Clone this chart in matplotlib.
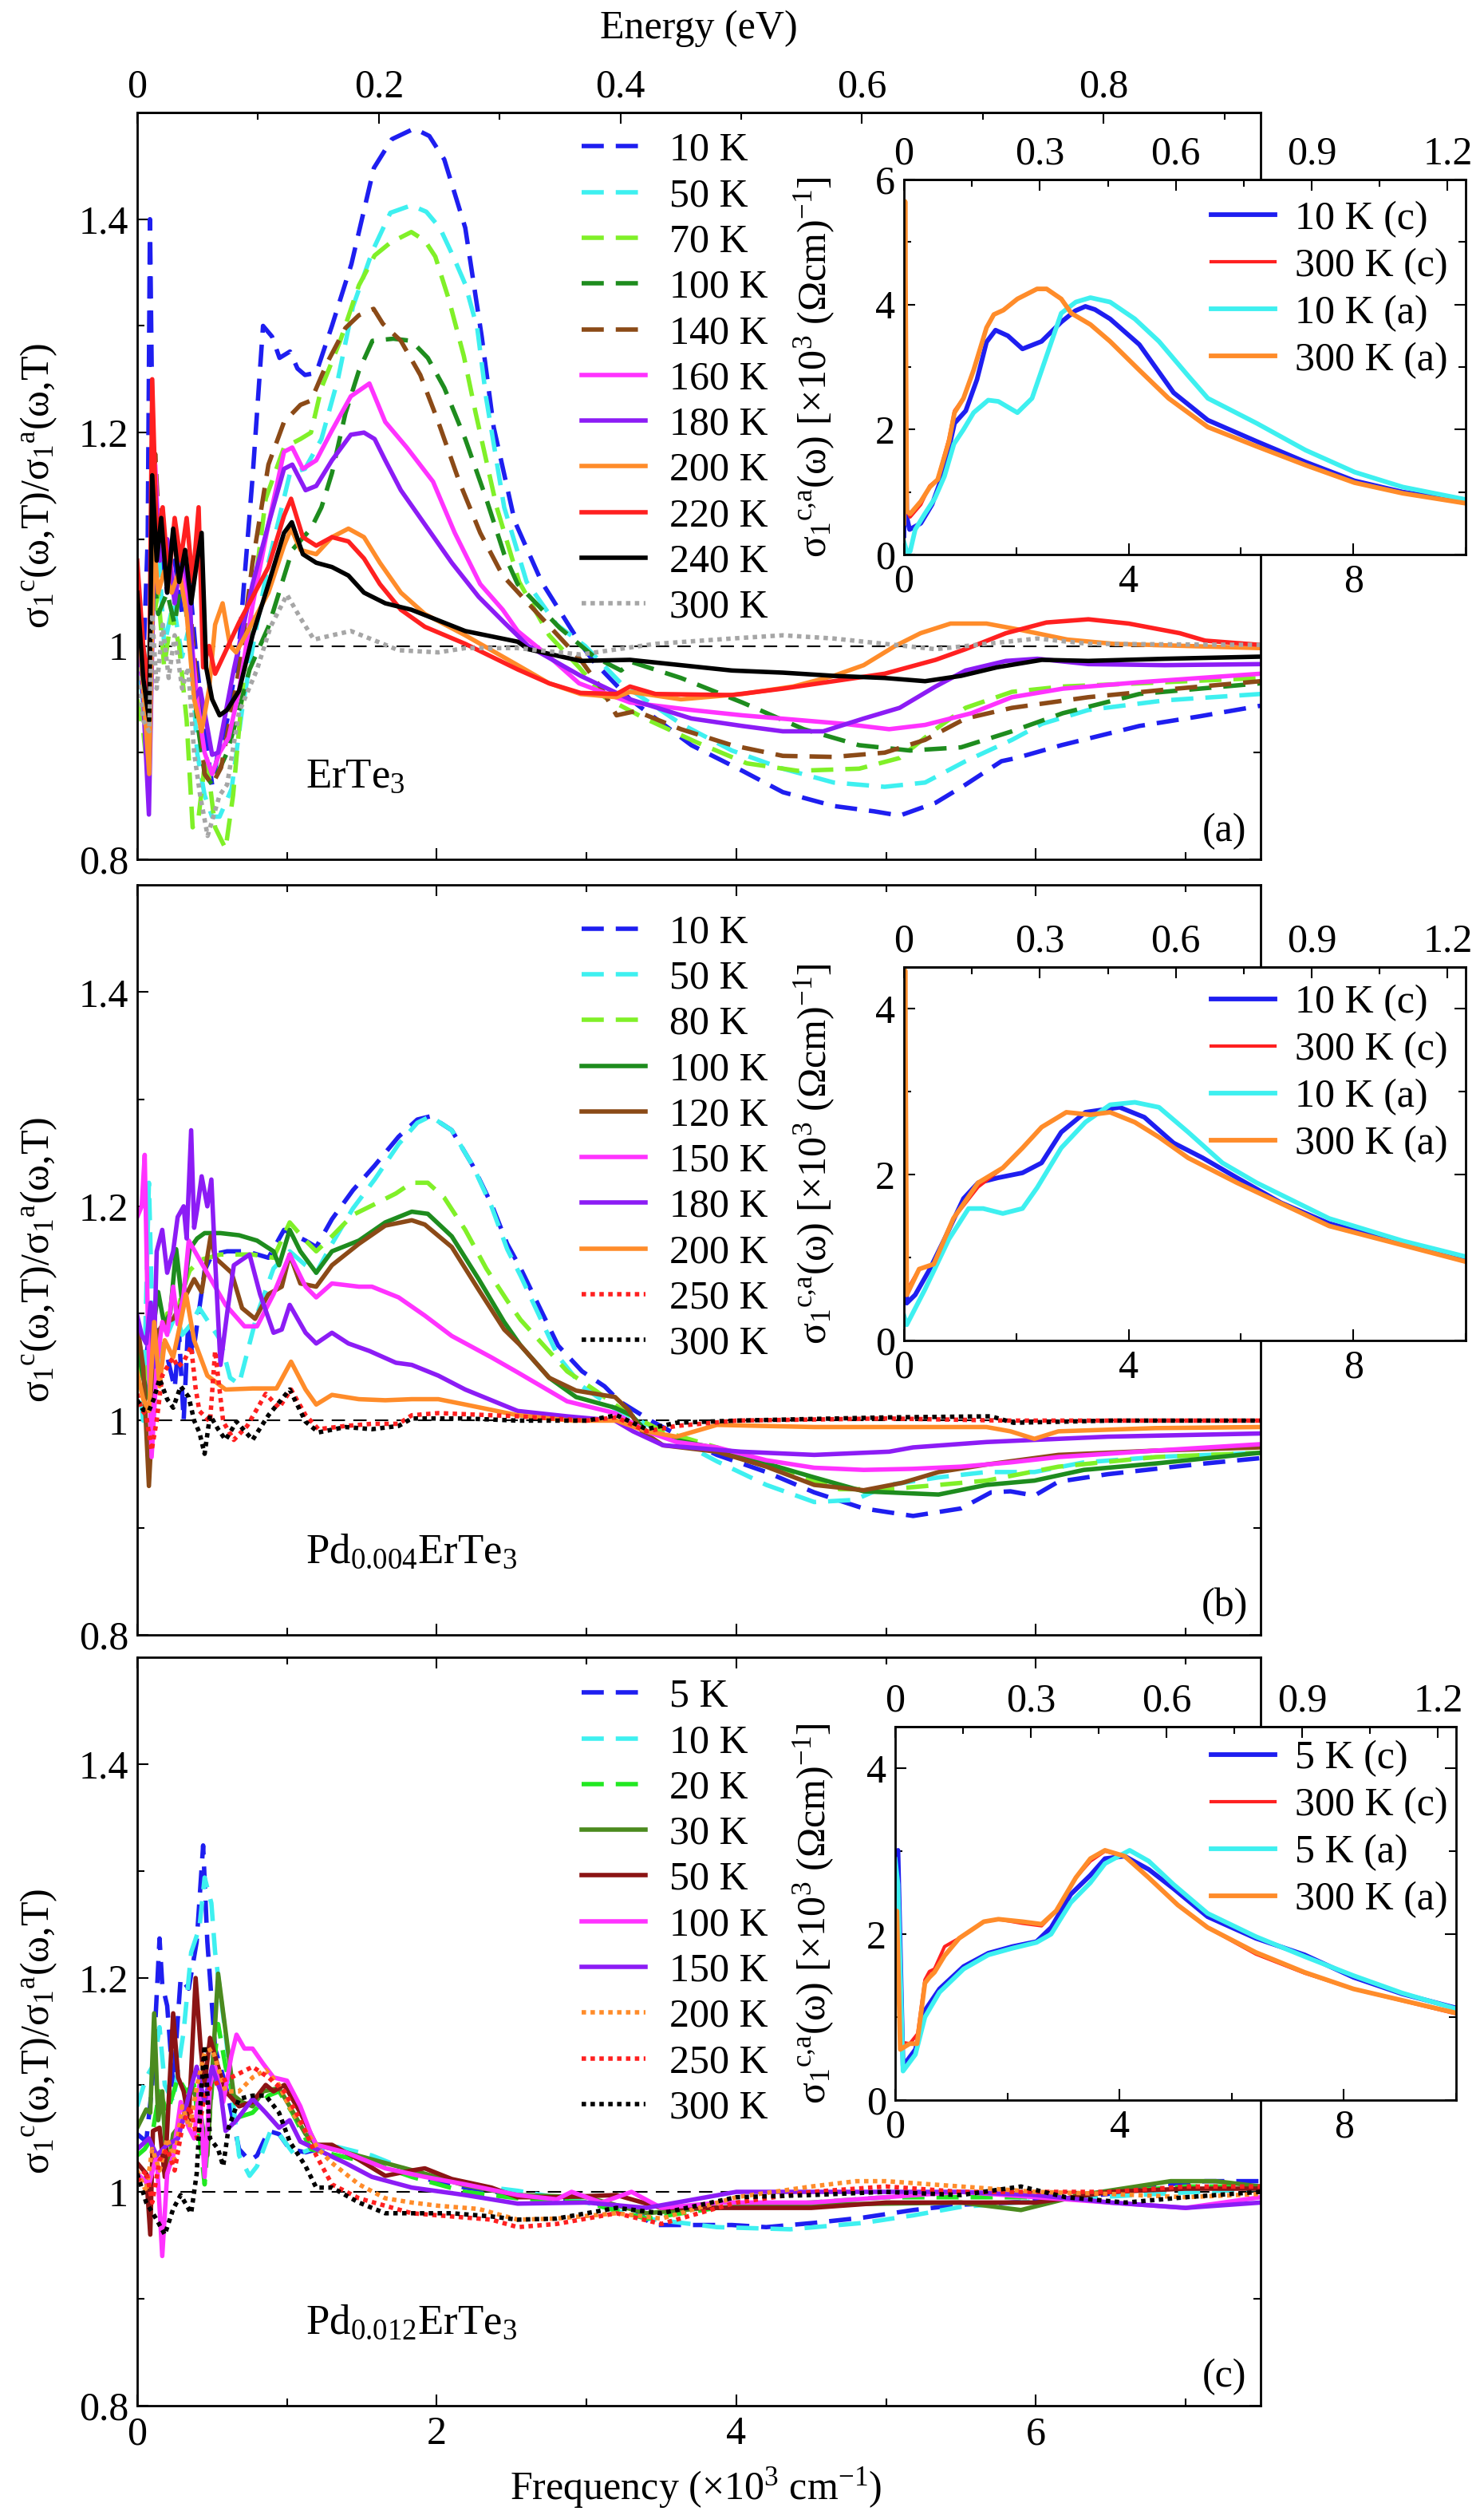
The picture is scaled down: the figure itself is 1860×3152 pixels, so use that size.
import numpy as np
import matplotlib
matplotlib.use("Agg")
import matplotlib.pyplot as plt
from matplotlib.ticker import MultipleLocator, FuncFormatter, FixedLocator

plt.rcParams['font.family'] = ['Liberation Serif', 'DejaVu Serif']
plt.rcParams['mathtext.default'] = 'regular'
plt.rcParams['axes.linewidth'] = 2.0

EV = 8.0655  # 10^3 cm^-1 per eV

# ---------------- panel (a): ErTe3 ----------------
a_10K = [(0, 1.05), (0.04, 0.98), (0.07, 1.10), (0.085, 1.40), (0.1, 1.22), (0.12, 1.06), (0.16, 1.09), (0.2, 1.05),
         (0.25, 1.08), (0.3, 1.03), (0.35, 1.06), (0.4, 0.98), (0.45, 0.92), (0.5, 0.87), (0.54, 0.90), (0.6, 0.93),
         (0.68, 1.0), (0.77, 1.158), (0.84, 1.30), (0.9, 1.29), (0.95, 1.27), (1.02, 1.276), (1.07, 1.26), (1.12, 1.254),
         (1.195, 1.256), (1.3, 1.30), (1.43, 1.358), (1.58, 1.448), (1.70, 1.475), (1.85, 1.485), (1.95, 1.478),
         (2.05, 1.456), (2.19, 1.392), (2.3, 1.29), (2.38, 1.205), (2.52, 1.117), (2.70, 1.06), (2.95, 1.004),
         (3.05, 0.985), (3.29, 0.95), (3.70, 0.907), (4.04, 0.883), (4.31, 0.863), (4.65, 0.85), (4.92, 0.845),
         (5.09, 0.841), (5.33, 0.853), (5.53, 0.87), (5.77, 0.892), (5.87, 0.895), (6.17, 0.907), (6.69, 0.925),
         (7.09, 0.934), (7.5, 0.944)]
a_50K = [(0, 1.0), (0.05, 0.93), (0.08, 1.0), (0.1, 1.06), (0.14, 1.1), (0.18, 1.0), (0.24, 1.04), (0.3, 0.99),
         (0.35, 1.02), (0.4, 0.9), (0.45, 0.86), (0.5, 0.84), (0.55, 0.84), (0.63, 0.866), (0.7, 0.94), (0.77, 0.998),
         (0.876, 1.078), (1.02, 1.162), (1.12, 1.166), (1.23, 1.194), (1.34, 1.25), (1.44, 1.318), (1.57, 1.37),
         (1.69, 1.406), (1.83, 1.413), (1.93, 1.407), (2.02, 1.392), (2.11, 1.365), (2.19, 1.339), (2.27, 1.298),
         (2.33, 1.232), (2.45, 1.13), (2.6, 1.06), (2.8, 1.02), (2.99, 1.0), (3.23, 0.965), (3.63, 0.927), (3.97, 0.902),
         (4.31, 0.885), (4.65, 0.872), (4.99, 0.868), (5.26, 0.872), (5.53, 0.892), (5.84, 0.912), (6.04, 0.927),
         (6.35, 0.94), (6.86, 0.949), (7.5, 0.955)]
a_70K = [(0, 0.95), (0.04, 0.92), (0.07, 0.88), (0.1, 1.02), (0.14, 1.05), (0.18, 0.98), (0.23, 1.03), (0.28, 1.0),
         (0.33, 0.93), (0.37, 0.83), (0.41, 0.84), (0.46, 0.90), (0.52, 0.83), (0.59, 0.81), (0.64, 0.86),
         (0.716, 0.978), (0.858, 1.138), (0.98, 1.186), (1.09, 1.194), (1.16, 1.20), (1.23, 1.242), (1.355, 1.286),
         (1.48, 1.338), (1.585, 1.366), (1.69, 1.378), (1.83, 1.388), (1.92, 1.38), (1.99, 1.365), (2.08, 1.325),
         (2.18, 1.272), (2.26, 1.218), (2.4, 1.13), (2.55, 1.06), (2.75, 1.01), (2.95, 0.98), (3.12, 0.952),
         (3.39, 0.932), (3.73, 0.91), (4.07, 0.89), (4.41, 0.883), (4.82, 0.885), (5.09, 0.895), (5.33, 0.922),
         (5.53, 0.942), (5.84, 0.957), (6.18, 0.962), (6.69, 0.965), (7.5, 0.97)]
a_100K = [(0, 1.0), (0.04, 0.97), (0.08, 0.92), (0.1, 1.08), (0.14, 1.03), (0.2, 1.05), (0.25, 1.02), (0.3, 1.07),
          (0.35, 1.0), (0.4, 0.93), (0.45, 0.88), (0.5, 0.87), (0.6, 0.9), (0.68, 0.94), (0.75, 0.978), (0.876, 1.018),
          (1.035, 1.09), (1.16, 1.11), (1.23, 1.13), (1.30, 1.162), (1.39, 1.218), (1.48, 1.258), (1.57, 1.286),
          (1.71, 1.288), (1.83, 1.286), (1.94, 1.27), (2.05, 1.242), (2.19, 1.194), (2.33, 1.138), (2.45, 1.086),
          (2.54, 1.058), (2.82, 1.017), (3.05, 0.99), (3.23, 0.977), (3.3, 0.985), (3.63, 0.97), (4.04, 0.947),
          (4.45, 0.922), (4.82, 0.907), (5.16, 0.902), (5.50, 0.905), (5.84, 0.92), (6.18, 0.937), (6.69, 0.955),
          (7.5, 0.965)]
a_140K = [(0, 1.02), (0.04, 0.98), (0.08, 0.95), (0.12, 1.18), (0.15, 1.1), (0.2, 1.07), (0.25, 1.05), (0.3, 1.09),
          (0.35, 1.04), (0.4, 0.96), (0.45, 0.88), (0.5, 0.87), (0.56, 0.886), (0.68, 0.978), (0.77, 1.078),
          (0.876, 1.17), (0.98, 1.21), (1.09, 1.226), (1.16, 1.23), (1.27, 1.266), (1.39, 1.298), (1.48, 1.31),
          (1.578, 1.316), (1.64, 1.302), (1.76, 1.286), (1.89, 1.254), (2.01, 1.21), (2.15, 1.154), (2.29, 1.106),
          (2.44, 1.066), (2.61, 1.04), (2.96, 0.987), (3.10, 0.96), (3.20, 0.935), (3.33, 0.939), (3.63, 0.922),
          (3.97, 0.907), (4.31, 0.897), (4.65, 0.896), (4.99, 0.90), (5.26, 0.912), (5.53, 0.932), (5.84, 0.942),
          (6.35, 0.952), (6.86, 0.959), (7.5, 0.967)]
a_160K = [(0, 1.05), (0.04, 1.0), (0.08, 0.92), (0.12, 1.17), (0.15, 1.08), (0.2, 1.1), (0.25, 1.05), (0.3, 1.08),
          (0.34, 1.04), (0.4, 0.95), (0.45, 0.9), (0.5, 0.88), (0.55, 0.9), (0.61, 0.914), (0.68, 0.958), (0.77, 1.038),
          (0.876, 1.114), (0.98, 1.182), (1.035, 1.186), (1.106, 1.166), (1.195, 1.174), (1.30, 1.202), (1.426, 1.234),
          (1.55, 1.246), (1.656, 1.21), (1.80, 1.186), (1.975, 1.154), (2.12, 1.106), (2.29, 1.058), (2.44, 1.034),
          (2.54, 1.014), (2.75, 0.99), (2.95, 0.965), (3.29, 0.947), (3.70, 0.94), (4.04, 0.935), (4.38, 0.931),
          (4.72, 0.927), (5.02, 0.922), (5.26, 0.926), (5.57, 0.937), (5.84, 0.952), (6.18, 0.96), (6.69, 0.966),
          (7.5, 0.974)]
a_180K = [(0, 1.02), (0.04, 0.95), (0.078, 0.842), (0.1, 1.0), (0.12, 1.15), (0.15, 1.08), (0.2, 1.1), (0.25, 1.04),
          (0.3, 1.09), (0.35, 1.05), (0.38, 0.95), (0.42, 0.96), (0.46, 0.93), (0.5, 0.898), (0.54, 0.9), (0.645, 0.978),
          (0.77, 1.058), (0.876, 1.114), (0.98, 1.166), (1.035, 1.17), (1.124, 1.146), (1.195, 1.15), (1.30, 1.174),
          (1.426, 1.198), (1.514, 1.2), (1.585, 1.194), (1.656, 1.174), (1.76, 1.146), (1.92, 1.114), (2.10, 1.078),
          (2.28, 1.046), (2.45, 1.022), (2.61, 1.0), (2.96, 0.972), (3.29, 0.95), (3.70, 0.932), (4.04, 0.925),
          (4.31, 0.92), (4.58, 0.92), (4.85, 0.932), (5.09, 0.942), (5.33, 0.962), (5.53, 0.977), (5.80, 0.986),
          (6.01, 0.988), (6.35, 0.983), (6.86, 0.982), (7.5, 0.983)]
a_200K = [(0, 1.05), (0.04, 0.96), (0.08, 0.88), (0.11, 1.1), (0.14, 1.05), (0.18, 1.07), (0.23, 1.05), (0.28, 1.07),
          (0.33, 1.03), (0.38, 0.95), (0.43, 0.92), (0.48, 0.96), (0.52, 1.02), (0.57, 1.04), (0.62, 1.0), (0.66, 0.994),
          (0.77, 1.022), (0.876, 1.05), (0.98, 1.094), (1.027, 1.11), (1.09, 1.09), (1.195, 1.086), (1.30, 1.102),
          (1.41, 1.11), (1.514, 1.102), (1.62, 1.078), (1.76, 1.05), (1.92, 1.03), (2.19, 1.01), (2.54, 0.982),
          (2.75, 0.965), (2.96, 0.955), (3.20, 0.952), (3.29, 0.957), (3.63, 0.95), (4.04, 0.955), (4.38, 0.962),
          (4.65, 0.972), (4.85, 0.982), (5.06, 1.0), (5.23, 1.012), (5.43, 1.021), (5.67, 1.021), (5.90, 1.015),
          (6.21, 1.006), (6.52, 1.002), (7.5, 0.998)]
a_220K = [(0, 1.08), (0.04, 1.0), (0.08, 0.96), (0.1, 1.25), (0.13, 1.1), (0.17, 1.13), (0.21, 1.06), (0.25, 1.12),
          (0.29, 1.08), (0.33, 1.12), (0.37, 1.06), (0.41, 1.13), (0.44, 0.98), (0.48, 1.0), (0.52, 0.974),
          (0.68, 1.022), (0.876, 1.074), (0.98, 1.122), (1.027, 1.138), (1.106, 1.102), (1.195, 1.094), (1.30, 1.102),
          (1.41, 1.098), (1.514, 1.082), (1.62, 1.058), (1.76, 1.034), (1.92, 1.018), (2.19, 1.002), (2.54, 0.978),
          (2.75, 0.965), (2.96, 0.956), (3.2, 0.955), (3.29, 0.962), (3.46, 0.955), (3.97, 0.954), (4.31, 0.96),
          (4.65, 0.967), (4.99, 0.974), (5.33, 0.987), (5.53, 0.997), (5.80, 1.012), (6.07, 1.022), (6.35, 1.025),
          (6.62, 1.021), (6.96, 1.012), (7.13, 1.005), (7.5, 1.001)]
a_240K = [(0, 1.05), (0.04, 0.97), (0.08, 0.93), (0.1, 1.16), (0.13, 1.08), (0.16, 1.12), (0.2, 1.05), (0.24, 1.11),
          (0.28, 1.06), (0.32, 1.09), (0.36, 1.04), (0.4, 1.08), (0.43, 1.106), (0.46, 0.98), (0.5, 0.95), (0.55, 0.935),
          (0.6, 0.94), (0.68, 0.958), (0.77, 1.01), (0.876, 1.058), (0.98, 1.106), (1.032, 1.116), (1.106, 1.086),
          (1.195, 1.078), (1.30, 1.074), (1.41, 1.066), (1.514, 1.05), (1.656, 1.04), (1.83, 1.034), (2.01, 1.024),
          (2.19, 1.014), (2.54, 1.004), (2.61, 0.997), (2.96, 0.986), (3.29, 0.987), (3.63, 0.982), (3.97, 0.977),
          (4.31, 0.975), (4.65, 0.972), (4.99, 0.97), (5.26, 0.967), (5.50, 0.972), (5.74, 0.98), (6.04, 0.987),
          (6.35, 0.986), (6.86, 0.988), (7.5, 0.99)]
a_300K = [(0, 0.98), (0.04, 0.93), (0.08, 0.92), (0.1, 1.03), (0.13, 0.96), (0.17, 1.02), (0.21, 0.97), (0.25, 1.01),
          (0.3, 0.96), (0.34, 0.98), (0.38, 0.9), (0.42, 0.86), (0.47, 0.822), (0.55, 0.86), (0.6, 0.87), (0.68, 0.938),
          (0.80, 0.978), (0.89, 1.018), (1.0, 1.048), (1.09, 1.026), (1.18, 1.006), (1.30, 1.01), (1.426, 1.014),
          (1.57, 1.006), (1.745, 0.996), (2.01, 0.994), (2.19, 0.998), (2.54, 0.998), (2.96, 0.992), (3.46, 1.002),
          (3.97, 1.007), (4.31, 1.01), (4.65, 1.007), (4.99, 1.002), (5.33, 0.997), (5.67, 1.002), (6.01, 1.007),
          (6.35, 1.002), (7.5, 1.001)]

# ---------------- panel (b): Pd0.004ErTe3 ----------------
b_10K = [(0, 1.08), (0.05, 1.05), (0.1, 1.1), (0.15, 1.07), (0.2, 1.06), (0.25, 1.03), (0.28, 1.08), (0.31, 1.0),
         (0.34, 1.09), (0.37, 1.06), (0.41, 1.1), (0.45, 1.14), (0.5, 1.155), (0.6, 1.158), (0.73, 1.158),
         (0.876, 1.152), (0.98, 1.178), (1.124, 1.168), (1.195, 1.162), (1.30, 1.188), (1.44, 1.215), (1.585, 1.238),
         (1.745, 1.265), (1.87, 1.281), (1.957, 1.284), (2.10, 1.271), (2.24, 1.238), (2.365, 1.202), (2.47, 1.165),
         (2.56, 1.142), (2.81, 1.07), (2.97, 1.046), (3.12, 1.032), (3.22, 1.018), (3.44, 0.999), (3.75, 0.976),
         (3.87, 0.968), (4.2, 0.952), (4.52, 0.933), (4.85, 0.918), (5.18, 0.911), (5.50, 0.918), (5.70, 0.933),
         (5.83, 0.934), (5.99, 0.930), (6.15, 0.943), (6.48, 0.95), (6.80, 0.955), (7.13, 0.96), (7.5, 0.965)]
b_50K = [(0, 1.05), (0.04, 1.0), (0.078, 1.222), (0.1, 1.1), (0.14, 1.05), (0.2, 1.08), (0.26, 1.1), (0.3, 1.08),
         (0.36, 1.09), (0.415, 1.105), (0.556, 1.075), (0.62, 1.04), (0.68, 1.034), (0.80, 1.099), (0.91, 1.142),
         (1.018, 1.158), (1.124, 1.145), (1.195, 1.138), (1.30, 1.165), (1.44, 1.198), (1.585, 1.225), (1.745, 1.258),
         (1.87, 1.278), (1.957, 1.284), (2.10, 1.271), (2.24, 1.238), (2.365, 1.2), (2.47, 1.16), (2.56, 1.135),
         (2.81, 1.06), (2.97, 1.032), (3.2, 1.01), (3.44, 0.994), (3.87, 0.962), (4.2, 0.94), (4.52, 0.924),
         (4.79, 0.926), (5.02, 0.94), (5.35, 0.947), (5.67, 0.952), (5.99, 0.952), (6.32, 0.961), (6.80, 0.966),
         (7.5, 0.97)]
b_80K = [(0, 1.06), (0.05, 1.03), (0.1, 1.08), (0.15, 1.06), (0.2, 1.1), (0.25, 1.09), (0.3, 1.12), (0.35, 1.14),
         (0.42, 1.15), (0.556, 1.155), (0.77, 1.155), (0.91, 1.152), (1.018, 1.185), (1.124, 1.168), (1.195, 1.158),
         (1.30, 1.172), (1.44, 1.192), (1.585, 1.202), (1.727, 1.212), (1.833, 1.222), (1.94, 1.222), (2.05, 1.208),
         (2.19, 1.178), (2.33, 1.142), (2.47, 1.112), (2.56, 1.094), (2.87, 1.046), (3.06, 1.028), (3.28, 1.006),
         (3.51, 0.99), (3.87, 0.975), (4.2, 0.957), (4.69, 0.936), (5.02, 0.936), (5.35, 0.94), (5.67, 0.944),
         (6.15, 0.957), (6.80, 0.966), (7.5, 0.97)]
b_100K = [(0, 1.07), (0.04, 1.04), (0.08, 1.02), (0.1, 1.08), (0.14, 1.12), (0.18, 1.09), (0.22, 1.1), (0.26, 1.16),
          (0.3, 1.11), (0.35, 1.16), (0.4, 1.17), (0.45, 1.175), (0.556, 1.175), (0.68, 1.173), (0.80, 1.168),
          (0.91, 1.158), (0.947, 1.145), (1.018, 1.178), (1.089, 1.158), (1.195, 1.138), (1.30, 1.158), (1.48, 1.168),
          (1.656, 1.185), (1.833, 1.195), (1.94, 1.193), (2.10, 1.172), (2.28, 1.132), (2.45, 1.092), (2.56, 1.07),
          (2.75, 1.04), (2.93, 1.022), (3.19, 1.012), (3.3, 1.005), (3.4, 0.99), (3.6, 0.982), (3.87, 0.974),
          (4.2, 0.96), (4.52, 0.947), (4.85, 0.934), (5.18, 0.932), (5.35, 0.931), (5.67, 0.94), (5.99, 0.944),
          (6.32, 0.954), (6.80, 0.96), (7.5, 0.97)]
b_120K = [(0, 1.09), (0.04, 1.05), (0.078, 0.939), (0.1, 1.0), (0.13, 1.08), (0.17, 1.09), (0.24, 1.095), (0.3, 1.11),
          (0.38, 1.132), (0.43, 1.12), (0.49, 1.172), (0.52, 1.152), (0.63, 1.138), (0.70, 1.105), (0.787, 1.095),
          (0.876, 1.118), (0.965, 1.125), (1.018, 1.155), (1.089, 1.128), (1.195, 1.125), (1.30, 1.145), (1.48, 1.165),
          (1.656, 1.182), (1.833, 1.187), (1.92, 1.183), (2.10, 1.162), (2.28, 1.122), (2.45, 1.085), (2.56, 1.07),
          (2.75, 1.04), (2.93, 1.028), (3.19, 1.022), (3.28, 1.01), (3.37, 0.99), (3.51, 0.977), (3.87, 0.971),
          (4.2, 0.957), (4.52, 0.94), (4.85, 0.935), (5.11, 0.942), (5.35, 0.952), (5.67, 0.959), (6.15, 0.968),
          (6.80, 0.972), (7.5, 0.975)]
b_150K = [(0, 1.19), (0.03, 1.2), (0.05, 1.248), (0.07, 1.1), (0.096, 0.966), (0.13, 1.05), (0.167, 1.092), (0.2, 1.08),
          (0.24, 1.125), (0.27, 1.09), (0.31, 1.118), (0.344, 1.168), (0.45, 1.142), (0.59, 1.108), (0.716, 1.088),
          (0.80, 1.088), (0.91, 1.118), (1.018, 1.155), (1.124, 1.125), (1.195, 1.115), (1.30, 1.128), (1.48, 1.125),
          (1.567, 1.125), (1.745, 1.115), (1.92, 1.098), (2.10, 1.079), (2.365, 1.059), (2.54, 1.045), (2.87, 1.018),
          (3.19, 1.007), (3.4, 0.99), (3.6, 0.98), (3.87, 0.975), (4.2, 0.963), (4.52, 0.956), (4.85, 0.954),
          (5.18, 0.955), (5.50, 0.957), (5.83, 0.961), (6.15, 0.966), (6.80, 0.972), (7.5, 0.978)]
b_180K = [(0, 1.098), (0.03, 1.08), (0.06, 1.072), (0.09, 1.11), (0.11, 1.05), (0.13, 1.158), (0.167, 1.178),
          (0.2, 1.138), (0.24, 1.158), (0.27, 1.19), (0.31, 1.20), (0.33, 1.17), (0.36, 1.271), (0.38, 1.18),
          (0.40, 1.197), (0.43, 1.228), (0.468, 1.20), (0.495, 1.225), (0.52, 1.15), (0.556, 1.052), (0.60, 1.1),
          (0.645, 1.145), (0.75, 1.155), (0.82, 1.118), (0.91, 1.082), (0.965, 1.085), (1.018, 1.108), (1.124, 1.082),
          (1.195, 1.072), (1.30, 1.082), (1.41, 1.072), (1.55, 1.065), (1.727, 1.054), (1.833, 1.052), (2.01, 1.042),
          (2.19, 1.029), (2.365, 1.019), (2.54, 1.009), (2.87, 1.004), (3.19, 1.0), (3.31, 0.99), (3.51, 0.977),
          (4.03, 0.971), (4.52, 0.968), (5.02, 0.971), (5.18, 0.975), (5.67, 0.98), (5.99, 0.982), (6.48, 0.985),
          (7.5, 0.988)]
b_200K = [(0, 1.045), (0.04, 1.02), (0.078, 1.009), (0.113, 1.092), (0.149, 1.032), (0.184, 1.075), (0.24, 1.059),
          (0.29, 1.092), (0.326, 1.118), (0.38, 1.075), (0.468, 1.042), (0.59, 1.029), (0.77, 1.03), (0.93, 1.03),
          (1.027, 1.055), (1.124, 1.029), (1.195, 1.015), (1.30, 1.024), (1.48, 1.02), (1.656, 1.019), (1.833, 1.02),
          (2.01, 1.02), (2.19, 1.015), (2.365, 1.01), (2.54, 1.005), (2.9, 1.0), (3.2, 1.0), (3.4, 0.99), (3.6, 0.985),
          (3.87, 0.996), (4.52, 0.994), (5.18, 0.994), (5.67, 0.994), (5.83, 0.99), (5.99, 0.983), (6.15, 0.99),
          (6.80, 0.993), (7.5, 0.994)]
b_250K = [(0, 1.025), (0.03, 1.01), (0.06, 1.005), (0.096, 0.972), (0.13, 1.0), (0.167, 1.042), (0.2, 1.05),
          (0.24, 1.059), (0.27, 1.05), (0.31, 1.055), (0.36, 1.069), (0.39, 1.03), (0.415, 1.009), (0.486, 0.999),
          (0.52, 1.065), (0.574, 0.999), (0.645, 0.982), (0.734, 0.995), (0.858, 1.025), (0.947, 1.012), (1.027, 1.029),
          (1.124, 1.005), (1.21, 0.992), (1.39, 0.995), (1.567, 0.997), (1.745, 0.997), (1.833, 1.005), (2.01, 1.007),
          (2.365, 1.005), (2.54, 1.004), (3.0, 1.0), (3.2, 1.003), (3.4, 0.99), (3.6, 0.995), (4.0, 1.0), (5.0, 1.002),
          (5.8, 1.0), (6.5, 1.0), (7.5, 1.0)]
b_300K = [(0, 1.019), (0.04, 1.01), (0.078, 1.009), (0.11, 1.02), (0.149, 1.039), (0.2, 1.02), (0.24, 1.012),
          (0.29, 1.032), (0.344, 1.022), (0.38, 1.0), (0.415, 0.989), (0.45, 0.969), (0.486, 1.005), (0.54, 0.992),
          (0.59, 0.982), (0.663, 0.999), (0.77, 0.982), (0.876, 1.005), (1.018, 1.029), (1.124, 0.999), (1.21, 0.989),
          (1.39, 0.994), (1.567, 0.992), (1.745, 0.995), (1.833, 1.002), (2.19, 1.002), (2.54, 1.0), (3.0, 1.0),
          (3.2, 1.005), (3.4, 0.992), (3.6, 0.998), (4.0, 1.0), (5.0, 1.003), (5.7, 1.004), (5.85, 0.998), (6.5, 1.0),
          (7.5, 1.0)]

# ---------------- panel (c): Pd0.012ErTe3 ----------------
c_5K = [(0, 1.054), (0.06, 1.047), (0.1, 1.1), (0.149, 1.237), (0.167, 1.194), (0.20, 1.174), (0.24, 1.10),
        (0.29, 1.20), (0.344, 1.19), (0.397, 1.234), (0.44, 1.324), (0.468, 1.234), (0.52, 1.134), (0.59, 1.10),
        (0.68, 1.04), (0.75, 1.029), (0.80, 1.034), (0.876, 1.057), (0.947, 1.054), (1.018, 1.04), (1.124, 1.037),
        (1.21, 1.04), (1.337, 1.04), (1.567, 1.027), (1.833, 1.015), (2.19, 1.004), (2.54, 0.997), (3.0, 0.99),
        (3.31, 0.985), (3.44, 0.969), (3.66, 0.969), (3.97, 0.969), (4.2, 0.967), (4.52, 0.971), (4.85, 0.976),
        (5.18, 0.983), (5.50, 0.988), (5.83, 0.99), (6.15, 0.993), (6.48, 0.998), (6.80, 1.006), (7.13, 1.01),
        (7.5, 1.01)]
c_10K = [(0, 1.08), (0.06, 1.107), (0.113, 1.12), (0.149, 1.154), (0.184, 1.10), (0.24, 1.084), (0.31, 1.15),
         (0.36, 1.224), (0.415, 1.247), (0.45, 1.294), (0.495, 1.27), (0.52, 1.224), (0.59, 1.147), (0.68, 1.034),
         (0.75, 1.015), (0.80, 1.024), (0.89, 1.057), (0.947, 1.054), (1.053, 1.034), (1.16, 1.04), (1.337, 1.042),
         (1.567, 1.034), (1.833, 1.019), (2.19, 1.007), (2.54, 1.001), (3.0, 0.99), (3.4, 0.975), (3.87, 0.967),
         (4.36, 0.965), (4.85, 0.971), (5.18, 0.978), (5.50, 0.986), (6.15, 0.993), (6.80, 0.998), (7.5, 1.003)]
c_20K = [(0, 1.034), (0.05, 1.04), (0.096, 1.05), (0.149, 1.094), (0.20, 1.074), (0.273, 1.107), (0.326, 1.094),
         (0.38, 1.10), (0.45, 1.007), (0.50, 1.10), (0.54, 1.157), (0.59, 1.117), (0.68, 1.07), (0.77, 1.074),
         (0.876, 1.09), (0.947, 1.094), (1.035, 1.074), (1.16, 1.04), (1.337, 1.034), (1.567, 1.027), (1.833, 1.014),
         (2.19, 1.0), (2.54, 0.994), (3.0, 0.99), (3.4, 0.975), (3.87, 0.985), (4.5, 0.99), (5.0, 0.995), (5.5, 0.995),
         (6.0, 0.995), (6.5, 1.0), (7.0, 1.005), (7.5, 1.005)]
c_30K = [(0, 1.06), (0.06, 1.077), (0.087, 1.074), (0.113, 1.167), (0.14, 1.067), (0.167, 1.094), (0.20, 1.017),
         (0.24, 1.054), (0.31, 1.067), (0.36, 1.10), (0.415, 1.08), (0.468, 1.034), (0.54, 1.204), (0.59, 1.15),
         (0.645, 1.09), (0.70, 1.084), (0.77, 1.08), (0.84, 1.094), (0.947, 1.097), (1.018, 1.08), (1.124, 1.054),
         (1.195, 1.044), (1.39, 1.037), (1.656, 1.027), (1.92, 1.017), (2.19, 1.006), (2.54, 0.997), (3.0, 0.995),
         (3.4, 0.98), (3.8, 0.985), (4.5, 0.988), (5.5, 0.99), (5.9, 0.983), (6.3, 0.997), (6.9, 1.01), (7.2, 1.01),
         (7.5, 1.005)]
c_50K = [(0, 1.027), (0.06, 1.017), (0.087, 0.96), (0.105, 1.057), (0.149, 1.06), (0.184, 1.014), (0.24, 1.167),
         (0.273, 1.107), (0.31, 1.094), (0.344, 1.067), (0.39, 1.20), (0.424, 1.134), (0.45, 1.10), (0.486, 1.144),
         (0.54, 1.117), (0.59, 1.094), (0.68, 1.08), (0.77, 1.084), (0.858, 1.10), (0.91, 1.094), (0.982, 1.10),
         (1.089, 1.074), (1.195, 1.044), (1.30, 1.044), (1.48, 1.03), (1.656, 1.015), (1.833, 1.02), (1.92, 1.022),
         (2.10, 1.012), (2.365, 1.004), (2.54, 0.995), (2.8, 0.995), (3.2, 0.997), (3.5, 0.985), (4.0, 0.985),
         (4.5, 0.985), (5.0, 0.99), (5.5, 0.99), (6.0, 0.99), (6.5, 1.0), (7.0, 1.003), (7.5, 1.003)]
c_100K = [(0, 1.017), (0.078, 1.007), (0.13, 1.034), (0.167, 0.94), (0.20, 1.017), (0.24, 1.034), (0.29, 1.084),
          (0.344, 1.06), (0.38, 1.05), (0.415, 1.10), (0.45, 1.014), (0.486, 1.10), (0.52, 1.117), (0.574, 1.084),
          (0.628, 1.127), (0.663, 1.147), (0.716, 1.134), (0.77, 1.134), (0.84, 1.12), (0.91, 1.107), (1.0, 1.104),
          (1.089, 1.08), (1.16, 1.054), (1.195, 1.044), (1.39, 1.037), (1.656, 1.022), (1.92, 1.014), (2.19, 1.007),
          (2.54, 0.997), (2.8, 0.993), (2.9, 1.0), (3.1, 0.99), (3.3, 1.0), (3.5, 0.985), (3.9, 0.99), (4.5, 0.99),
          (5.0, 0.995), (5.5, 1.0), (6.0, 0.995), (6.5, 0.99), (7.0, 0.985), (7.5, 0.995)]
c_150K = [(0, 1.04), (0.078, 1.05), (0.13, 1.034), (0.20, 1.044), (0.273, 1.05), (0.344, 1.09), (0.397, 1.117),
          (0.45, 1.084), (0.50, 1.117), (0.556, 1.094), (0.59, 1.057), (0.663, 1.067), (0.77, 1.087), (0.858, 1.074),
          (0.947, 1.06), (1.018, 1.067), (1.089, 1.047), (1.195, 1.04), (1.39, 1.027), (1.567, 1.014), (1.833, 1.004),
          (2.19, 0.997), (2.54, 0.989), (3.0, 0.99), (3.4, 0.985), (3.6, 0.99), (4.0, 1.0), (4.5, 1.0), (5.0, 1.0),
          (5.5, 1.0), (6.0, 0.997), (6.5, 0.99), (7.0, 0.985), (7.5, 0.99)]
c_200K = [(0, 1.02), (0.06, 1.0), (0.1, 1.04), (0.15, 1.02), (0.2, 1.05), (0.25, 1.03), (0.3, 1.08), (0.35, 1.06),
          (0.4, 1.1), (0.45, 1.13), (0.50, 1.134), (0.59, 1.094), (0.68, 1.094), (0.77, 1.107), (0.858, 1.114),
          (0.947, 1.10), (1.035, 1.074), (1.124, 1.057), (1.21, 1.04), (1.30, 1.027), (1.48, 1.007), (1.656, 0.994),
          (1.833, 0.99), (2.01, 0.987), (2.28, 0.984), (2.54, 0.974), (2.8, 0.975), (3.2, 0.98), (3.5, 0.975),
          (4.0, 0.995), (4.5, 1.005), (4.8, 1.01), (5.0, 1.01), (5.5, 1.005), (6.0, 1.0), (6.5, 0.998), (7.0, 0.995),
          (7.5, 0.998)]
c_250K = [(0, 1.01), (0.06, 1.02), (0.1, 0.99), (0.15, 1.03), (0.2, 1.04), (0.25, 1.02), (0.3, 1.06), (0.35, 1.08),
          (0.4, 1.05), (0.45, 1.09), (0.50, 1.10), (0.628, 1.107), (0.77, 1.117), (0.876, 1.107), (0.982, 1.094),
          (1.089, 1.067), (1.195, 1.034), (1.30, 1.007), (1.48, 0.994), (1.656, 0.987), (1.833, 0.98), (2.10, 0.977),
          (2.365, 0.974), (2.54, 0.967), (2.8, 0.97), (3.2, 0.98), (3.5, 0.97), (4.0, 0.99), (4.5, 1.0), (5.0, 1.005),
          (5.5, 1.0), (6.0, 1.0), (6.5, 1.0), (7.0, 1.005), (7.5, 1.005)]
c_300K = [(0, 1.017), (0.06, 0.99), (0.13, 0.974), (0.184, 0.96), (0.24, 0.984), (0.29, 0.997), (0.36, 0.98),
          (0.397, 1.017), (0.43, 1.10), (0.45, 1.137), (0.486, 1.05), (0.54, 1.04), (0.574, 1.024), (0.61, 1.06),
          (0.68, 1.087), (0.77, 1.09), (0.858, 1.09), (0.947, 1.074), (1.018, 1.047), (1.124, 1.024), (1.195, 1.004),
          (1.30, 1.004), (1.48, 0.99), (1.656, 0.98), (1.833, 0.98), (2.10, 0.98), (2.365, 0.977), (2.54, 0.974),
          (2.8, 0.975), (3.2, 0.985), (3.5, 0.98), (4.0, 0.995), (4.5, 0.997), (5.0, 1.0), (5.5, 0.997), (5.9, 1.005),
          (6.2, 0.995), (6.6, 0.99), (7.0, 0.995), (7.5, 1.0)]

# ---------------- insets: sigma_1 (10^3 (Ohm cm)^-1) ----------------
ia_10Kc = [(0, 0.3), (0.02, 3.0), (0.05, 0.6), (0.1, 0.4), (0.3, 0.5), (0.5, 0.8), (0.7, 1.3), (0.9, 2.1), (1.1, 2.3),
           (1.3, 2.8), (1.47, 3.4), (1.63, 3.59), (1.85, 3.5), (2.11, 3.29), (2.45, 3.41), (2.80, 3.72), (3.05, 3.9),
           (3.23, 3.97), (3.4, 3.92), (3.67, 3.77), (4.19, 3.36), (4.80, 2.59), (5.41, 2.15), (6.28, 1.81),
           (7.15, 1.48), (8.02, 1.18), (8.88, 1.0), (10.0, 0.84)]
ia_300Kc = [(0, 0.5), (0.02, 5.6), (0.05, 0.7), (0.11, 0.6), (0.3, 0.8), (0.46, 1.1), (0.6, 1.2), (0.8, 1.85),
            (0.9, 2.3), (1.06, 2.5), (1.24, 2.95), (1.47, 3.63), (1.6, 3.84), (1.77, 3.91), (2.02, 4.09), (2.37, 4.25),
            (2.54, 4.25), (2.80, 4.09), (2.98, 3.86), (3.32, 3.68), (3.67, 3.41), (4.19, 2.95), (4.71, 2.5),
            (5.41, 2.04), (6.28, 1.73), (7.15, 1.43), (8.02, 1.15), (8.88, 0.98), (10, 0.82)]
ia_10Ka = [(0, 0.2), (0.05, 0.05), (0.11, 0.05), (0.2, 0.4), (0.37, 0.65), (0.55, 0.9), (0.72, 1.25), (0.89, 1.77),
           (1.06, 2.0), (1.24, 2.27), (1.50, 2.47), (1.68, 2.45), (2.02, 2.27), (2.28, 2.5), (2.54, 3.18), (2.80, 3.86),
           (3.06, 4.04), (3.32, 4.11), (3.67, 4.04), (4.11, 3.77), (4.54, 3.41), (5.06, 2.86), (5.41, 2.5),
           (6.28, 2.1), (7.15, 1.67), (8.02, 1.32), (8.88, 1.08), (10, 0.88)]
ia_300Ka = [(0, 0.5), (0.02, 5.65), (0.05, 0.7), (0.11, 0.65), (0.3, 0.85), (0.46, 1.08), (0.6, 1.2), (0.8, 1.81),
            (0.9, 2.27), (1.06, 2.5), (1.24, 2.95), (1.47, 3.63), (1.6, 3.84), (1.77, 3.91), (2.02, 4.09),
            (2.37, 4.25), (2.54, 4.25), (2.80, 4.09), (2.98, 3.86), (3.32, 3.68), (3.67, 3.41), (4.19, 2.95),
            (4.71, 2.5), (5.41, 2.04), (6.28, 1.73), (7.15, 1.43), (8.02, 1.15), (8.88, 0.98), (10, 0.82)]

ib_10Kc = [(0, 0.6), (0.02, 1.5), (0.05, 0.45), (0.2, 0.55), (0.46, 0.86), (0.72, 1.22), (1.06, 1.71), (1.32, 1.90),
           (1.67, 1.96), (2.11, 2.02), (2.45, 2.14), (2.80, 2.51), (3.23, 2.75), (3.84, 2.81), (4.28, 2.69),
           (4.80, 2.38), (5.32, 2.20), (5.93, 1.96), (6.71, 1.66), (7.57, 1.41), (8.88, 1.17), (10, 0.99)]
ib_300Kc = [(0, 1.0), (0.02, 4.4), (0.05, 0.6), (0.27, 0.86), (0.53, 0.92), (0.88, 1.47), (1.32, 1.85), (1.76, 2.08),
            (2.11, 2.32), (2.45, 2.57), (2.89, 2.75), (3.32, 2.72), (3.67, 2.75), (4.11, 2.63), (4.54, 2.45),
            (5.06, 2.20), (5.93, 1.90), (7.57, 1.38), (10, 0.95)]
ib_10Ka = [(0, 0.3), (0.05, 0.19), (0.37, 0.61), (0.80, 1.22), (1.15, 1.59), (1.41, 1.59), (1.76, 1.53), (2.11, 1.59),
           (2.37, 1.84), (2.80, 2.32), (3.23, 2.63), (3.67, 2.84), (4.11, 2.87), (4.54, 2.81), (5.06, 2.51),
           (5.67, 2.14), (6.28, 1.90), (7.57, 1.47), (8.88, 1.20), (10, 1.01)]
ib_300Ka = [(0, 1.0), (0.02, 4.46), (0.05, 0.55), (0.27, 0.86), (0.53, 0.92), (0.88, 1.47), (1.32, 1.90),
            (1.76, 2.08), (2.11, 2.32), (2.45, 2.57), (2.89, 2.75), (3.32, 2.72), (3.67, 2.75), (4.11, 2.63),
            (4.54, 2.45), (5.06, 2.20), (5.93, 1.90), (7.57, 1.38), (10, 0.95)]

ic_5Kc = [(0, 2.9), (0.05, 3.01), (0.14, 0.41), (0.36, 0.61), (0.53, 1.08), (0.79, 1.34), (1.22, 1.61), (1.66, 1.77),
          (2.09, 1.85), (2.52, 1.91), (2.78, 2.08), (3.13, 2.48), (3.48, 2.71), (3.74, 2.91), (4.09, 2.94),
          (4.52, 2.78), (4.96, 2.55), (5.57, 2.21), (6.43, 1.95), (7.30, 1.75), (8.17, 1.48), (9.04, 1.28), (10, 1.11)]
ic_300Kc = [(0, 2.2), (0.03, 2.28), (0.09, 0.7), (0.26, 0.68), (0.4, 0.8), (0.53, 1.45), (0.61, 1.55), (0.70, 1.58),
            (0.88, 1.85), (1.14, 1.95), (1.58, 2.15), (1.84, 2.18), (2.27, 2.13), (2.61, 2.1), (2.87, 2.28),
            (3.22, 2.68), (3.48, 2.88), (3.74, 3.0), (4.09, 2.94), (4.52, 2.68), (5.04, 2.35), (5.57, 2.08),
            (6.43, 1.76), (7.30, 1.53), (8.17, 1.34), (10, 1.04)]
ic_5Ka = [(0, 2.9), (0.05, 2.6), (0.14, 0.35), (0.36, 0.55), (0.53, 1.0), (0.79, 1.3), (1.22, 1.58), (1.66, 1.75),
          (2.09, 1.83), (2.52, 1.90), (2.78, 2.0), (3.13, 2.38), (3.48, 2.62), (3.74, 2.85), (4.18, 3.01),
          (4.52, 2.88), (4.96, 2.6), (5.57, 2.25), (6.43, 1.97), (7.30, 1.73), (8.17, 1.5), (9.04, 1.29), (10, 1.1)]
ic_300Ka = [(0, 2.2), (0.03, 2.28), (0.09, 0.61), (0.26, 0.68), (0.39, 0.68), (0.53, 1.41), (0.61, 1.48),
            (0.70, 1.54), (0.88, 1.74), (1.14, 1.95), (1.58, 2.15), (1.84, 2.18), (2.27, 2.15), (2.61, 2.12),
            (2.87, 2.28), (3.22, 2.68), (3.48, 2.91), (3.74, 3.01), (4.09, 2.94), (4.52, 2.68), (5.04, 2.35),
            (5.57, 2.08), (6.43, 1.78), (7.30, 1.54), (8.17, 1.34), (10, 1.05)]

labels_a = ['10 K', '50 K', '70 K', '100 K', '140 K', '160 K', '180 K', '200 K', '220 K', '240 K', '300 K']
labels_b = ['10 K', '50 K', '80 K', '100 K', '120 K', '150 K', '180 K', '200 K', '250 K', '300 K']
labels_c = ['5 K', '10 K', '20 K', '30 K', '50 K', '100 K', '150 K', '200 K', '250 K', '300 K']
inset_labels_ab = ['10 K (c)', '300 K (c)', '10 K (a)', '300 K (a)']
inset_labels_c = ['5 K (c)', '300 K (c)', '5 K (a)', '300 K (a)']

# energy-axis ticks (eV)
main_ev_major = [0, 0.2, 0.4, 0.6, 0.8]
main_ev_minor = [0.1, 0.3, 0.5, 0.7, 0.9]
inset_ev_major = [0, 0.3, 0.6, 0.9, 1.2]
inset_ev_minor = [0.15, 0.45, 0.75, 1.05]

BLUE, CYAN, LGREEN, DGREEN = '#1e1ef0', '#3ef0f0', '#80f028', '#1e8c1e'
BROWN, MAGENTA, PURPLE, ORANGE = '#8b4a17', '#ff33ff', '#8c1cf5', '#ff8c2a'
RED, GRAY, GREEN2, OLIVE, MAROON = '#ff2020', '#a6a6a6', '#22e822', '#4b8a1e', '#8b1414'

colors_a = [BLUE, CYAN, LGREEN, DGREEN, BROWN, MAGENTA, PURPLE, ORANGE, RED, 'black', GRAY]
colors_b = [BLUE, CYAN, LGREEN, DGREEN, BROWN, MAGENTA, PURPLE, ORANGE, RED, 'black']
colors_c = [BLUE, CYAN, GREEN2, OLIVE, MAROON, MAGENTA, PURPLE, ORANGE, RED, 'black']
styles_a = ['dash'] * 5 + ['solid'] * 5 + ['dot']
styles_b = ['dash'] * 3 + ['solid'] * 5 + ['dot'] * 2
styles_c = ['dash'] * 3 + ['solid'] * 4 + ['dot'] * 3
inset_colors = [BLUE, RED, CYAN, ORANGE]
inset_widths = [4.2, 3.0, 4.2, 4.2]

LS = {'dash': (0, (5, 2.7)), 'dot': (0, (1, 1)), 'solid': '-'}
FS = 36
fmt = FuncFormatter(lambda v, p: f'{v:g}')


def xy(pts):
    arr = np.array(pts)
    return arr[:, 0], arr[:, 1]


fig = plt.figure(figsize=(18.6, 31.52), dpi=100)


def energy_axis(parent, major, minor):
    sec = parent.secondary_xaxis('top', functions=(lambda v: v / EV, lambda e: e * EV))
    sec.xaxis.set_major_locator(FixedLocator(major))
    sec.xaxis.set_minor_locator(FixedLocator(minor))
    sec.xaxis.set_major_formatter(fmt)
    sec.tick_params(which='both', direction='in', width=1.5, labelsize=FS, pad=6)
    sec.tick_params(which='major', length=10)
    sec.tick_params(which='minor', length=6.5)
    return sec


def main_panel(rect, curves, labels, colors, styles, sample, letter, leg_y, energy_top, bottom_labels):
    ax = fig.add_axes(rect)
    ax.axhline(1.0, color='black', lw=1.5, ls=(0, (8, 5)), zorder=1)
    for pts, lab, c, s in zip(curves, labels, colors, styles):
        x, y = xy(pts)
        ax.plot(x, y, color=c, lw=4.0, ls=LS[s], label=lab, zorder=2)
    ax.set_xlim(0, 7.5)
    ax.set_ylim(0.8, 1.5)
    ax.xaxis.set_major_locator(FixedLocator([0, 2, 4, 6]))
    ax.xaxis.set_minor_locator(FixedLocator([1, 3, 5, 7]))
    ax.yaxis.set_major_locator(FixedLocator([0.8, 1.0, 1.2, 1.4]))
    ax.yaxis.set_minor_locator(FixedLocator([0.9, 1.1, 1.3]))
    ax.xaxis.set_major_formatter(fmt)
    ax.yaxis.set_major_formatter(fmt)
    ax.tick_params(which='both', direction='in', width=1.5, labelsize=FS, right=True, top=not energy_top)
    ax.tick_params(which='major', length=10)
    ax.tick_params(which='minor', length=6.5)
    ax.tick_params(axis='x', pad=9, labelbottom=bottom_labels)
    ax.tick_params(axis='y', pad=8)
    if energy_top:
        energy_axis(ax, main_ev_major, main_ev_minor)
    ax.legend(loc='upper left', bbox_to_anchor=(0.3956, leg_y), frameon=False, fontsize=FS,
              handlelength=1.6, handletextpad=0.6, labelspacing=0.216, borderpad=0, borderaxespad=0)
    ax.text(0.15, 0.11, sample, transform=ax.transAxes, fontsize=38, ha='left', va='center')
    ax.text(0.968, 0.038, letter, transform=ax.transAxes, fontsize=FS, ha='center', va='center')
    return ax


def inset(rect, curves, labels, ymax, leg_xy):
    ia = fig.add_axes(rect, zorder=5)
    ia.set_facecolor('white')
    for pts, lab, c, w in zip(curves, labels, inset_colors, inset_widths):
        x, y = xy(pts)
        ia.plot(x, y, color=c, lw=w, label=lab)
    ia.set_xlim(0, 10)
    ia.set_ylim(0, ymax)
    ia.xaxis.set_major_locator(FixedLocator([0, 4, 8]))
    ia.xaxis.set_minor_locator(FixedLocator([2, 6, 10]))
    ia.yaxis.set_major_locator(FixedLocator([v for v in (0, 2, 4, 6) if v <= ymax]))
    ia.yaxis.set_minor_locator(FixedLocator([v for v in (1, 3, 5) if v < ymax]))
    ia.xaxis.set_major_formatter(fmt)
    ia.yaxis.set_major_formatter(fmt)
    ia.tick_params(which='both', direction='in', width=1.5, labelsize=FS, right=True)
    ia.tick_params(which='major', length=10)
    ia.tick_params(which='minor', length=6.5)
    ia.tick_params(axis='x', pad=8)
    ia.tick_params(axis='y', pad=8)
    energy_axis(ia, inset_ev_major, inset_ev_minor)
    ia.set_ylabel(r'$σ_1{}^{c{,}a}(ω)$ [×10$^3$ (Ωcm)$^{-1}$]', fontsize=FS)
    ia.legend(loc='upper left', bbox_to_anchor=leg_xy, frameon=False, fontsize=FS,
              handlelength=1.6, handletextpad=0.5, labelspacing=0.25, borderpad=0, borderaxespad=0)
    return ia


ax_a = main_panel([0.09247, 0.65831, 0.75699, 0.29695],
                  [a_10K, a_50K, a_70K, a_100K, a_140K, a_160K, a_180K, a_200K, a_220K, a_240K, a_300K],
                  labels_a, colors_a, styles_a, 'ErTe$_3$', '(a)', 0.974, True, False)
ax_b = main_panel([0.09247, 0.34994, 0.75699, 0.29822],
                  [b_10K, b_50K, b_80K, b_100K, b_120K, b_150K, b_180K, b_200K, b_250K, b_300K],
                  labels_b, colors_b, styles_b, 'Pd$_{0.004}$ErTe$_3$', '(b)', 0.961, False, False)
ax_c = main_panel([0.09247, 0.04346, 0.75699, 0.29759],
                  [c_5K, c_10K, c_20K, c_30K, c_50K, c_100K, c_150K, c_200K, c_250K, c_300K],
                  labels_c, colors_c, styles_c, 'Pd$_{0.012}$ErTe$_3$', '(c)', 0.972, False, True)

in_a = inset([0.60914, 0.77951, 0.37849, 0.14911], [ia_10Kc, ia_300Kc, ia_10Ka, ia_300Ka],
             inset_labels_ab, 6, (0.547, 0.944))
in_b = inset([0.60914, 0.46701, 0.37849, 0.14848], [ib_10Kc, ib_300Kc, ib_10Ka, ib_300Ka],
             inset_labels_ab, 4.5, (0.547, 0.953))
in_c = inset([0.60323, 0.16497, 0.37796, 0.14848], [ic_5Kc, ic_300Kc, ic_5Ka, ic_300Ka],
             inset_labels_c, 4.5, (0.563, 0.964))
in_a.yaxis.set_label_coords(-0.12, 0.5)
in_b.yaxis.set_label_coords(-0.12, 0.5)
in_c.yaxis.set_label_coords(-0.105, 0.5)

ylab = r'$σ_1{}^c(ω{,}T)/σ_1{}^a(ω{,}T)$'
for yc in (0.8068, 0.499, 0.1923):
    fig.text(0.0263, yc, ylab, rotation=90, ha='center', va='center', fontsize=FS)
fig.text(0.471, 0.9886, 'Energy (eV)', ha='center', va='center', fontsize=FS)
fig.text(0.469, 0.0108, 'Frequency (×10$^3$ cm$^{-1}$)', ha='center', va='center', fontsize=FS)

fig.savefig('out.png', dpi=100)
